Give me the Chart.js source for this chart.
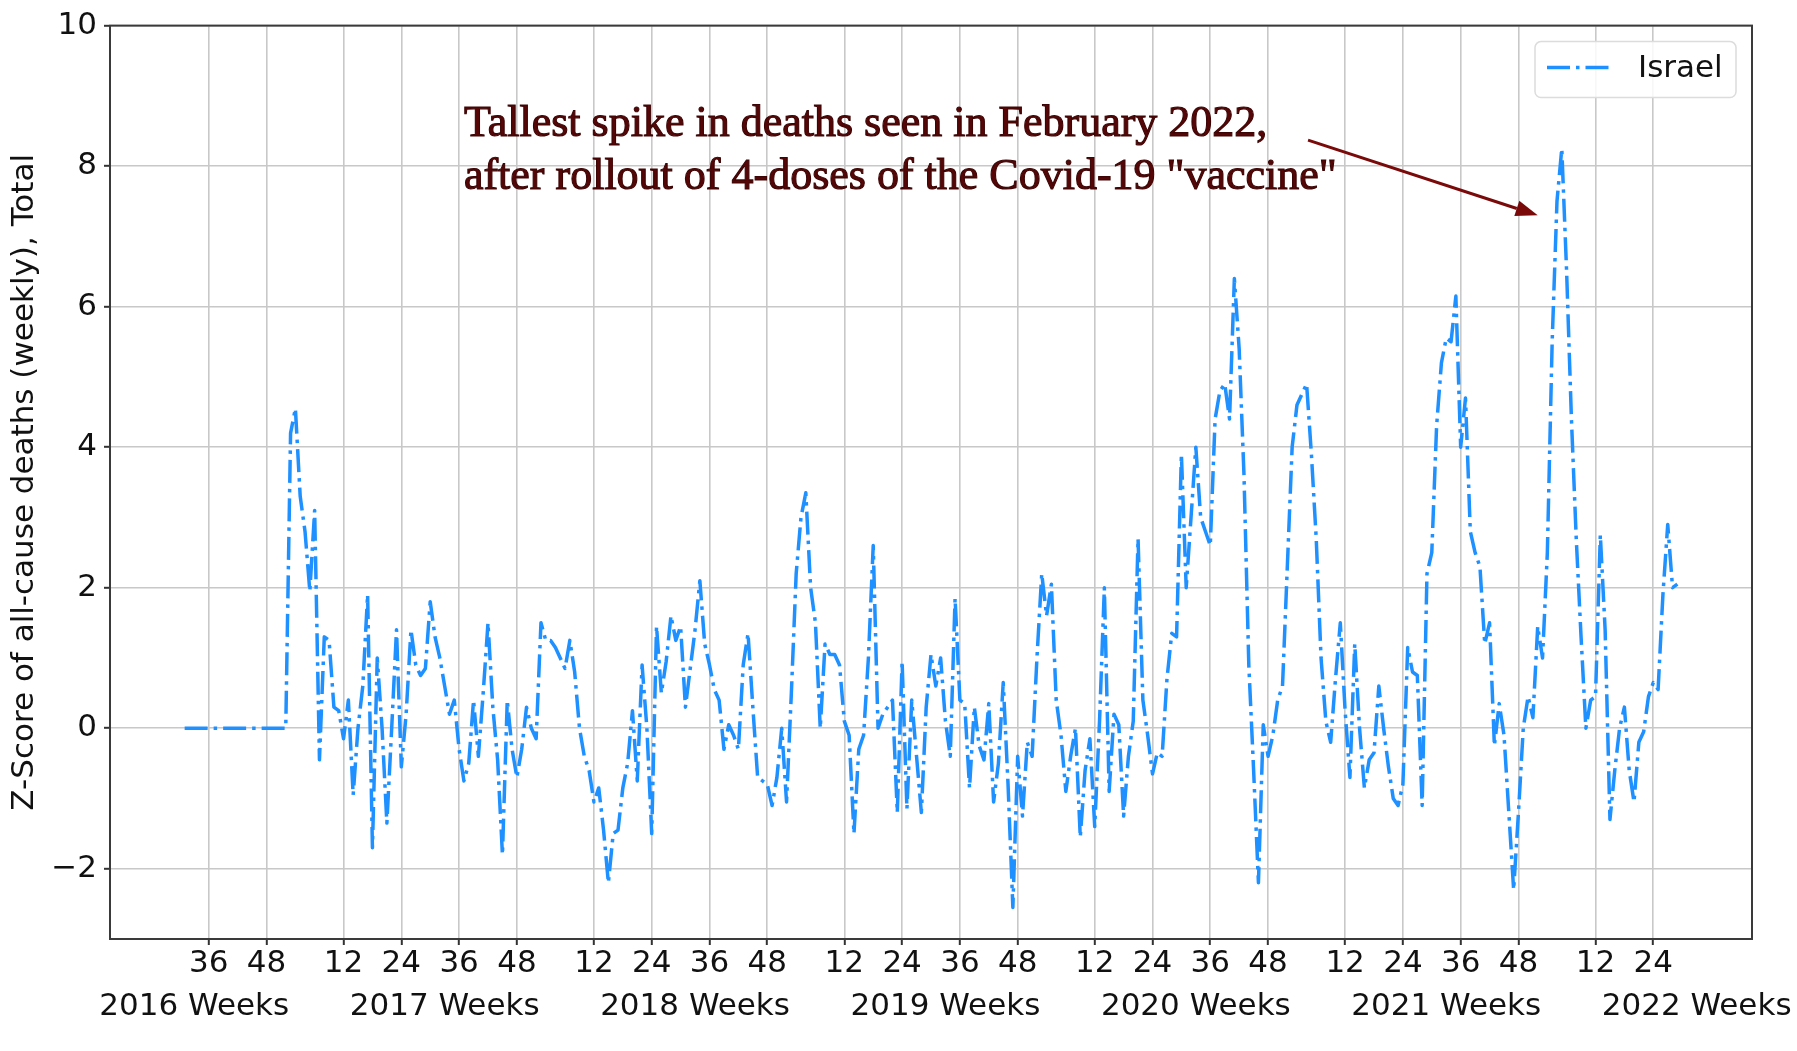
<!DOCTYPE html>
<html>
<head>
<meta charset="utf-8">
<title>Z-Score of all-cause deaths - Israel</title>
<script src="https://cdn.jsdelivr.net/npm/chart.js@4.4.1/dist/chart.umd.min.js"></script>
<style>
  html, body { margin: 0; padding: 0; background: #fff; }
  #chart { display: block; }
</style>
</head>
<body>
<canvas id="chart" width="1797" height="1051"></canvas>
<script>
// Weekly Z-score of all-cause deaths, Israel
// one list per year, starting at 2016 week 31
const weeks2016 = [0, 0, 0, 0, 0, 0, 0, 0, 0, 0, 0, 0, 0, 0, 0, 0, 0, 0, 0, 0, 0, 0];
const weeks2017 = [4.2, 4.55, 3.3, 2.8, 1.95, 3.1, -0.45, 1.3, 1.25, 0.3,
    0.25, -0.15, 0.4, -0.95, 0.0, 0.6, 1.9, -1.7, 1.0, 0.0,
    -1.35, 0.0, 1.4, -0.55, 0.2, 1.4, 0.9, 0.75, 0.85, 1.8,
    1.3, 1.0, 0.6, 0.2, 0.4, -0.3, -0.75, -0.5, 0.4, -0.4,
    0.5, 1.5, 0.3, -0.45, -1.8, 0.4, -0.3, -0.7, -0.3, 0.3,
    0.0, -0.15];
const weeks2018 = [1.5, 1.25, 1.25, 1.15, 1.0, 0.85, 1.25, 0.8, 0.0, -0.4,
    -0.6, -1.05, -0.85, -1.45, -2.2, -1.5, -1.45, -0.85, -0.5, 0.25,
    -0.75, 0.9, 0.0, -1.5, 1.45, 0.5, 0.95, 1.6, 1.25, 1.45,
    0.3, 0.85, 1.4, 2.1, 1.2, 0.9, 0.55, 0.4, -0.3, 0.05,
    -0.1, -0.3, 0.9, 1.35, 0.3, -0.7, -0.75, -0.8, -1.1, -0.7,
    0.0, -1.05];
const weeks2019 = [0.5, 2.2, 3.0, 3.35, 2.0, 1.5, 0.0, 1.2, 1.05, 1.05,
    0.9, 0.1, -0.1, -1.5, -0.3, -0.1, 1.0, 2.6, 0.0, 0.2,
    0.3, 0.4, -1.2, 0.95, -1.15, 0.4, -0.4, -1.2, 0.3, 1.05,
    0.6, 1.0, 0.1, -0.4, 1.85, 0.4, 0.35, -0.85, 0.3, -0.25,
    -0.45, 0.35, -1.05, -0.5, 0.65, -0.8, -2.55, -0.4, -1.25, -0.2,
    -0.4, 1.0];
const weeks2020 = [2.2, 1.6, 2.05, 0.4, -0.1, -0.9, -0.4, 0.0, -1.55, -0.6,
    -0.15, -1.4, 0.1, 2.0, -0.9, 0.2, 0.05, -1.25, -0.4, 0.1,
    2.7, 0.4, -0.1, -0.65, -0.35, -0.4, 0.7, 1.35, 1.3, 3.9,
    2.0, 3.0, 4.0, 3.0, 2.8, 2.6, 4.4, 4.8, 4.9, 4.4,
    6.4, 5.4, 3.6, 0.9, -0.6, -2.2, 0.05, -0.4, -0.1, 0.4,
    0.6, 2.3];
const weeks2021 = [4.0, 4.6, 4.75, 4.9, 3.9, 2.7, 1.0, 0.1, -0.2, 0.7,
    1.5, 0.25, -0.7, 1.2, 0.0, -0.85, -0.45, -0.35, 0.6, 0.0,
    -0.55, -1.0, -1.1, -0.8, 1.15, 0.8, 0.75, -1.1, 2.2, 2.5,
    4.3, 5.2, 5.55, 5.5, 6.15, 4.0, 4.7, 2.8, 2.5, 2.3,
    1.2, 1.5, -0.25, 0.35, -0.1, -1.2, -2.3, -1.2, 0.0, 0.45,
    0.15, 1.45];
const weeks2022 = [1.0, 2.5, 5.5, 7.5, 8.25, 6.5, 4.4, 2.7, 1.3, 0.0,
    0.4, 0.45, 2.75, 1.4, -1.3, -0.6, 0.0, 0.3, -0.6, -1.05,
    -0.2, -0.05, 0.45, 0.65, 0.55, 1.9, 2.9, 2.0, 2.05];

const seriesLabel = 'Israel';
const firstYear = 2016;
const firstWeek = 31;
const years = [2016, 2017, 2018, 2019, 2020, 2021, 2022];
const yearLabels = ['2016 Weeks', '2017 Weeks', '2018 Weeks', '2019 Weeks', '2020 Weeks', '2021 Weeks', '2022 Weeks'];
const weekTicks = [12, 24, 36, 48];
const yTicks = [-2, 0, 2, 4, 6, 8, 10];
const noteLines = [
    'Tallest spike in deaths seen in February 2022,',
    'after rollout of 4-doses of the Covid-19 "vaccine"'
];

const FONT = '"DejaVu Sans", sans-serif';
const LINE_BLUE = '#1e90ff';

// position of a (year, week) on the x axis, counted from the first data week
function weekIndex(year, week) {
    return (year - firstYear) * 52 + week - firstWeek;
}

const zScores = [].concat(weeks2016, weeks2017, weeks2018, weeks2019, weeks2020, weeks2021, weeks2022);
const points = zScores.map((v, i) => ({ x: i, y: v }));
const lastIndex = zScores.length - 1;
const xPad = lastIndex * 0.05;

// week ticks (12, 24, 36, 48) that fall inside the data
const weekTickValues = [];
years.forEach(yr => {
    weekTicks.forEach(w => {
        const idx = weekIndex(yr, w);
        if (idx >= 0 && idx <= lastIndex) weekTickValues.push(idx);
    });
});
const yearTickValues = years.map(yr => weekIndex(yr, 33));

// Frame round the plot
const framePlugin = {
    id: 'frame',
    afterDatasetsDraw(chart) {
        const { ctx, chartArea: a } = chart;
        ctx.save();
        ctx.strokeStyle = '#3a3a3a';
        ctx.lineWidth = 2;
        ctx.strokeRect(a.left, a.top, a.right - a.left, a.bottom - a.top);
        ctx.restore();
    }
};

// Annotation text and arrow
const notePlugin = {
    id: 'note',
    afterDraw(chart) {
        const { ctx, scales: { x, y } } = chart;
        ctx.save();
        ctx.font = '44px "Liberation Serif", "Times New Roman", serif';
        ctx.fillStyle = '#560606';
        ctx.strokeStyle = '#3c0404';
        ctx.lineWidth = 1.1;
        ctx.textBaseline = 'alphabetic';
        const tx = x.getPixelForValue(58);
        const ty = y.getPixelForValue(8.43);
        noteLines.forEach((line, k) => {
            ctx.fillText(line, tx, ty + k * 53);
            ctx.strokeText(line, tx, ty + k * 53);
        });

        // arrow
        const x0 = x.getPixelForValue(233.3), y0 = y.getPixelForValue(8.37);
        const x1 = x.getPixelForValue(281), y1 = y.getPixelForValue(7.3);
        const ang = Math.atan2(y1 - y0, x1 - x0);
        const headLen = 22, headW = 8;
        const bx = x1 - headLen * Math.cos(ang), by = y1 - headLen * Math.sin(ang);
        ctx.strokeStyle = '#7a0a0a';
        ctx.fillStyle = '#7a0a0a';
        ctx.lineWidth = 3;
        ctx.beginPath();
        ctx.moveTo(x0, y0);
        ctx.lineTo(bx, by);
        ctx.stroke();
        ctx.beginPath();
        ctx.moveTo(x1, y1);
        ctx.lineTo(bx + headW * Math.sin(ang), by - headW * Math.cos(ang));
        ctx.lineTo(bx - headW * Math.sin(ang), by + headW * Math.cos(ang));
        ctx.closePath();
        ctx.fill();
        ctx.restore();
    }
};

// Legend box in the upper right corner
const legendPlugin = {
    id: 'boxLegend',
    afterDraw(chart) {
        const { ctx, chartArea: a } = chart;
        const ds = chart.data.datasets[0];
        const w = 201, h = 56;
        const bx = a.right - 16 - w, by = a.top + 16;
        ctx.save();
        ctx.beginPath();
        ctx.roundRect(bx, by, w, h, 6);
        ctx.fillStyle = 'rgba(255,255,255,0.85)';
        ctx.fill();
        ctx.strokeStyle = '#dcdcdc';
        ctx.lineWidth = 1.5;
        ctx.stroke();

        ctx.beginPath();
        ctx.setLineDash(ds.borderDash);
        ctx.strokeStyle = ds.borderColor;
        ctx.lineWidth = ds.borderWidth;
        ctx.moveTo(bx + 12, by + 26);
        ctx.lineTo(bx + 75, by + 26);
        ctx.stroke();
        ctx.setLineDash([]);

        ctx.font = '31px ' + FONT;
        ctx.fillStyle = '#111';
        ctx.textBaseline = 'middle';
        ctx.fillText(ds.label, bx + 103, by + 27);
        ctx.restore();
    }
};

const ctx = document.getElementById('chart').getContext('2d');
new Chart(ctx, {
    type: 'line',
    data: {
        datasets: [{
            label: seriesLabel,
            data: points,
            borderColor: LINE_BLUE,
            borderWidth: 3.5,
            borderDash: [23, 6, 3.5, 6],
            borderJoinStyle: 'round',
            pointRadius: 0,
            tension: 0,
            fill: false
        }]
    },
    options: {
        responsive: false,
        animation: false,
        devicePixelRatio: 1,
        layout: { padding: { top: 21, right: 45, bottom: 0, left: 0 } },
        plugins: {
            legend: { display: false },
            tooltip: { enabled: false }
        },
        scales: {
            x: {
                type: 'linear',
                position: 'bottom',
                weight: 0,
                min: -xPad,
                max: lastIndex + xPad,
                afterBuildTicks: scale => { scale.ticks = weekTickValues.map(v => ({ value: v })); },
                afterFit: scale => { scale.height = 44; scale.paddingLeft = 0; scale.paddingRight = 0; },
                ticks: {
                    autoSkip: false,
                    maxRotation: 0,
                    padding: 0,
                    color: '#111',
                    font: { family: FONT, size: 31 },
                    callback: v => String(((v + firstWeek - 1) % 52) + 1)
                },
                grid: { color: '#c8c8c8', lineWidth: 1.6, tickLength: 6, tickColor: '#333', tickWidth: 2 },
                border: { color: '#3a3a3a', width: 2 }
            },
            years: {
                type: 'linear',
                position: 'bottom',
                weight: 1,
                min: -xPad,
                max: lastIndex + xPad,
                afterBuildTicks: scale => { scale.ticks = yearTickValues.map(v => ({ value: v })); },
                afterFit: scale => { scale.height = 68; scale.paddingLeft = 0; scale.paddingRight = 0; },
                ticks: {
                    autoSkip: false,
                    maxRotation: 0,
                    padding: 5,
                    color: '#111',
                    font: { family: FONT, size: 31 },
                    callback: (v, i) => yearLabels[i]
                },
                grid: { display: false, drawTicks: false },
                border: { display: false }
            },
            y: {
                min: -3,
                max: 10,
                afterBuildTicks: scale => { scale.ticks = yTicks.map(v => ({ value: v })); },
                afterFit: scale => { scale.width = 110; },
                ticks: {
                    padding: 7,
                    color: '#111',
                    font: { family: FONT, size: 31 },
                    callback: v => v < 0 ? '\u2212' + Math.abs(v) : String(v)
                },
                grid: { color: '#c8c8c8', lineWidth: 1.6, tickLength: 6, tickColor: '#333', tickWidth: 2 },
                border: { color: '#3a3a3a', width: 2 },
                title: {
                    display: true,
                    text: 'Z-Score of all-cause deaths (weekly), Total',
                    color: '#111',
                    font: { family: FONT, size: 31 },
                    padding: { top: 6, bottom: 0 }
                }
            }
        }
    },
    plugins: [framePlugin, notePlugin, legendPlugin]
});
</script>
</body>
</html>
